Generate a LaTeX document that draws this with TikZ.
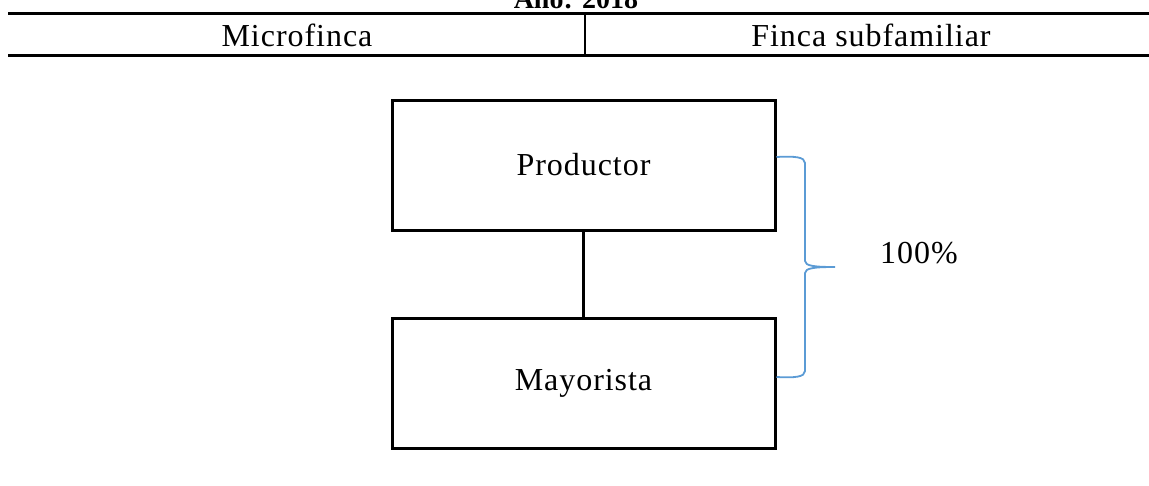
\documentclass[tikz,border=0pt]{standalone}
\usepackage{fontspec}
\setmainfont{Liberation Serif}
\newfontfamily\tnr[LetterSpace=3]{Liberation Serif}
\definecolor{braceblue}{HTML}{5B9BD5}
\begin{document}
\begin{tikzpicture}[x=1pt,y=-1pt,
  lbl/.style={font=\fontsize{32}{36}\tnr, inner sep=0pt},
  boxnode/.style={draw, line width=3pt, minimum width=383pt, minimum height=130pt, font=\fontsize{32}{36}\tnr},
  rule/.style={line width=3pt}]
\useasboundingbox (0,0) rectangle (1149,485);
\clip (0,0) rectangle (1149,485);
% header
\node[anchor=base, font=\fontsize{28}{32}\bfseries\selectfont, inner sep=0pt] (anio) at (576,8) {Año: 2018};
\coordinate (tl) at (8,13);
\coordinate (tr) at (1149,13);
\coordinate (bl) at (8,55);
\coordinate (br) at (1149,55);
\coordinate (dt) at (585,13);
\coordinate (db) at (585,55);
\draw[rule] (tl) -- (tr);
\draw[rule] (bl) -- (br);
\draw[line width=2pt] (dt) -- (db);
\node[lbl] (micro) at (297,35) {Microfinca};
\node[lbl] (finca) at (871,35) {Finca subfamiliar};
% boxes
\node[boxnode] (prod) at (583.5,165) {Productor};
\node[boxnode] (may) at (583.5,383) {Mayorista};
\draw[line width=3pt] (prod) -- (may);
% brace
\coordinate (b1) at (prod.east |- 0,157);
\coordinate (b2) at (may.east |- 0,377);
\draw[braceblue, line width=1.8pt]
  (b1) .. controls (795,156) and (805,157) .. (805,163)
  -- (805,261) .. controls (805,266) and (815,267) .. (835,267)
  .. controls (815,267) and (805,268) .. (805,273)
  -- (805,371) .. controls (805,377) and (795,378) .. (b2);
\node[lbl] (pct) at (919,253) {100\%};
\end{tikzpicture}
\end{document}
